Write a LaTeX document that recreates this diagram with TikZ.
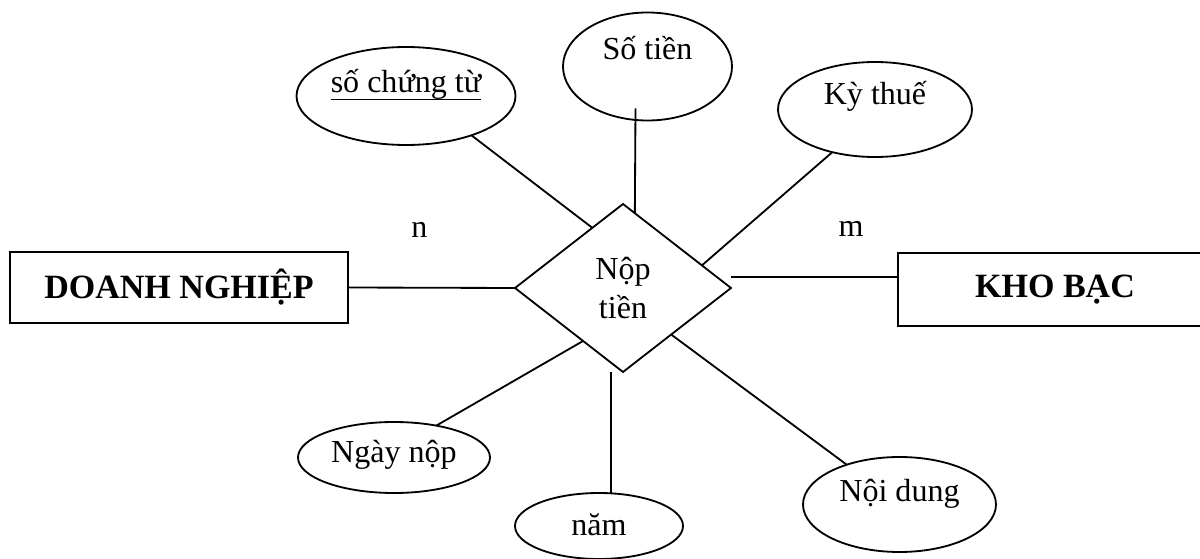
\documentclass[tikz,border=0pt]{standalone}
\usepackage{fontspec}
\setmainfont{Liberation Serif}
\usetikzlibrary{shapes.geometric}
\newlength{\pxlen}
\setlength{\pxlen}{0.25mm}
% underlined key attribute
\newcommand{\keyul}[1]{\setbox0\hbox{#1}\rlap{\rule[-7\pxlen]{\wd0}{1pt}}\box0}

\begin{document}
\begin{tikzpicture}[x=1\pxlen,y=-1\pxlen,line width=1.3pt,
  every node/.style={font=\fontsize{22.8}{27.7}\selectfont,outer sep=0pt,inner sep=0pt},
  ent/.style 2 args={draw,rectangle,minimum width=#1\pxlen,minimum height=#2\pxlen,font=\fontsize{24.2}{29}\selectfont\bfseries},
  attr/.style n args={3}{ellipse,draw,minimum width=#1\pxlen,minimum height=#2\pxlen,text height=22\pxlen,text depth=#3\pxlen},
  rel/.style={diamond,draw,align=center,minimum width=216\pxlen,minimum height=168\pxlen}]
\useasboundingbox (0,0) rectangle (1200,559);
\clip (0,0) rectangle (1200,559);
% entities and relationship
\node[ent={338}{71}] (dn) at (179,287.5) {DOANH NGHIỆP};
\node[ent={314}{73}] (kb) at (1055,289.5) {KHO BẠC};
\node[rel] (nt) at (623,288) {Nộp\\tiền};
% attributes
\node[attr={219}{98}{28}] (sct) at (406,96) {\keyul{số chứng từ}};
\node[attr={169}{108}{35}] (st) at (647.5,66.5) {Số tiền};
\node[attr={194}{95}{31}] (kt) at (875,109.5) {Kỳ thuế};
\node[attr={192}{71}{11}] (nn) at (394,457.5) {Ngày nộp};
\node[attr={168}{66}{4}] (nam) at (599,526) {năm};
\node[attr={193}{95}{27}] (nd) at (899.5,504.5) {Nội dung};
% cardinalities
\node[anchor=base] (cn) at (419.5,238) {n};
\node[anchor=base] (cm) at (851,237) {m};
\draw (dn.east) -- (nt.west);
\draw ([shift={(0,-11)}]nt.east) -- ([shift={(0,-12.5)}]kb.west);
\draw (sct.-31) -- (nt.117);
\draw ([shift={(-12,-12)}]st.south) -- (nt.81);
\draw (kt.-135) -- (nt.16);
\draw (nn.37) -- (nt.-127);
\draw ([shift={(-12,0)}]nt.south) -- ([shift={(-12,0)}]nt.south |- nam.north);
\draw (nd.143) -- (nt.-44);
\end{tikzpicture}
\end{document}
